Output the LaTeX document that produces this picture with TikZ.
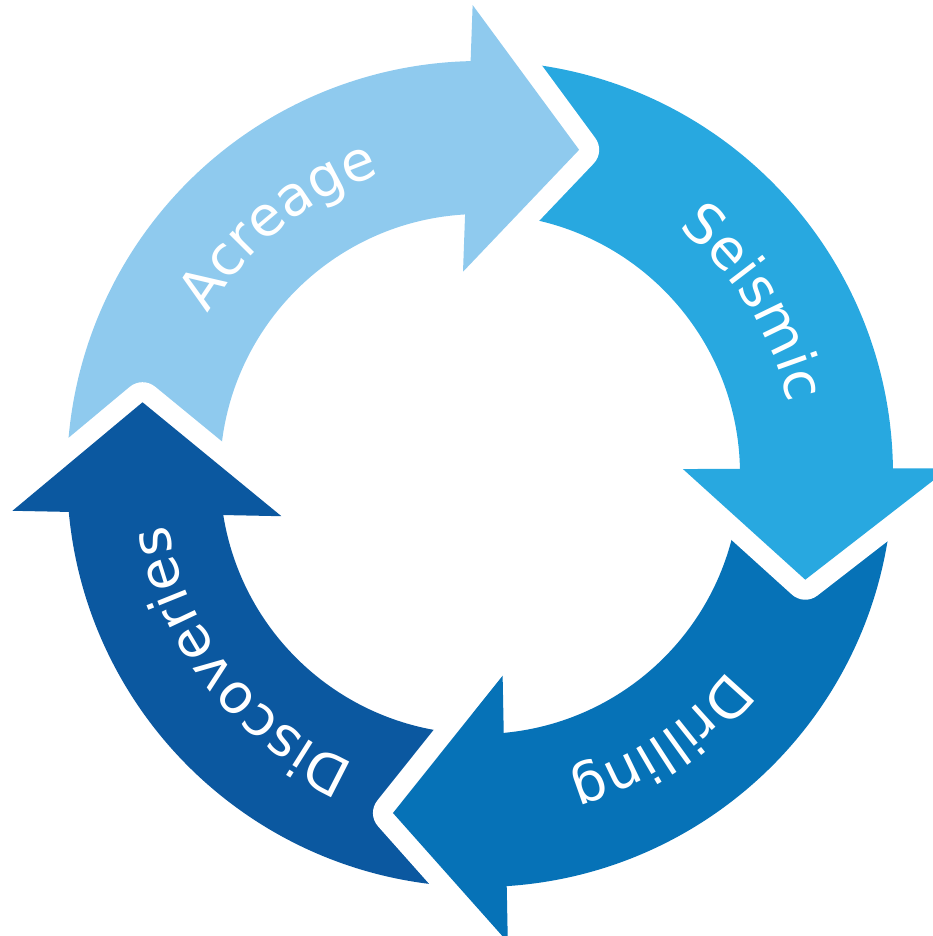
\documentclass[tikz,border=0pt]{standalone}
\usepackage{fontspec}
\setmainfont{DejaVu Sans}
\usetikzlibrary{decorations.text}
\definecolor{acreage}{HTML}{8FCAEE}
\definecolor{seismic}{HTML}{28A8E0}
\definecolor{drilling}{HTML}{0672B7}
\definecolor{discoveries}{HTML}{0B58A0}
\tikzstyle{band} = [draw=none]
\tikzstyle{tiphead} = [
  draw=none,
  preaction={draw=white, line width=40pt, line join=round}
]
\tikzstyle{ringtext} = [
  decorate,
  decoration={text along path, text align=center, text color=white}
]
\newcommand{\ringfont}{\fontsize{55}{55}\selectfont}

\begin{document}
\begin{tikzpicture}[x=1pt, y=1pt]
    \useasboundingbox (-480,-462) rectangle (452,474);

    % shafts of the four arrows
    \fill [band, acreage] (182:413) arc [start angle=182, end angle=90.1, radius=413]
      -- (92.3:260) arc [start angle=92.3, end angle=182, radius=260] -- cycle;
    \fill [band, seismic] (86:413) arc [start angle=86, end angle=-0.3, radius=413]
      -- (0.1:260) arc [start angle=0.1, end angle=86, radius=260] -- cycle;
    \fill [band, drilling] (-5:413) arc [start angle=-5, end angle=-87.1, radius=413]
      -- (-85.7:260) arc [start angle=-85.7, end angle=-5, radius=260] -- cycle;
    \fill [band, discoveries] (-91:413) arc [start angle=-91, end angle=-175.6, radius=413]
      -- (-171.5:260) arc [start angle=-171.5, end angle=-91, radius=260] -- cycle;

    % heads, each one cutting a white gap into the next tail
    \fill [tiphead, acreage] (90.9:469) -- (73:339) -- (94.8:203);
    \fill [tiphead, seismic] (0.7:469) -- (-18:342) -- (1.4:203);
    \fill [tiphead, drilling] (-86.6:469) -- (-104.4:350) -- (-83.6:203);
    \fill [tiphead, discoveries] (-175.5:469) -- (-192:345) -- (-168:203);

    % labels along the ring
    \path [ringtext, decoration={text={|\ringfont|Acreage}}]
      (184:316) arc [start angle=184, end angle=74, radius=316];
    \path [ringtext, decoration={text={|\ringfont|Seismic}}]
      (87:316) arc [start angle=87, end angle=-23, radius=316];
    \path [ringtext, decoration={text={|\ringfont|Drilling}}]
      (-1:316) arc [start angle=-1, end angle=-111, radius=316];
    \path [ringtext, decoration={text={|\ringfont|Discoveries}}]
      (-87:316) arc [start angle=-87, end angle=-197, radius=316];
  \end{tikzpicture}
\end{document}
